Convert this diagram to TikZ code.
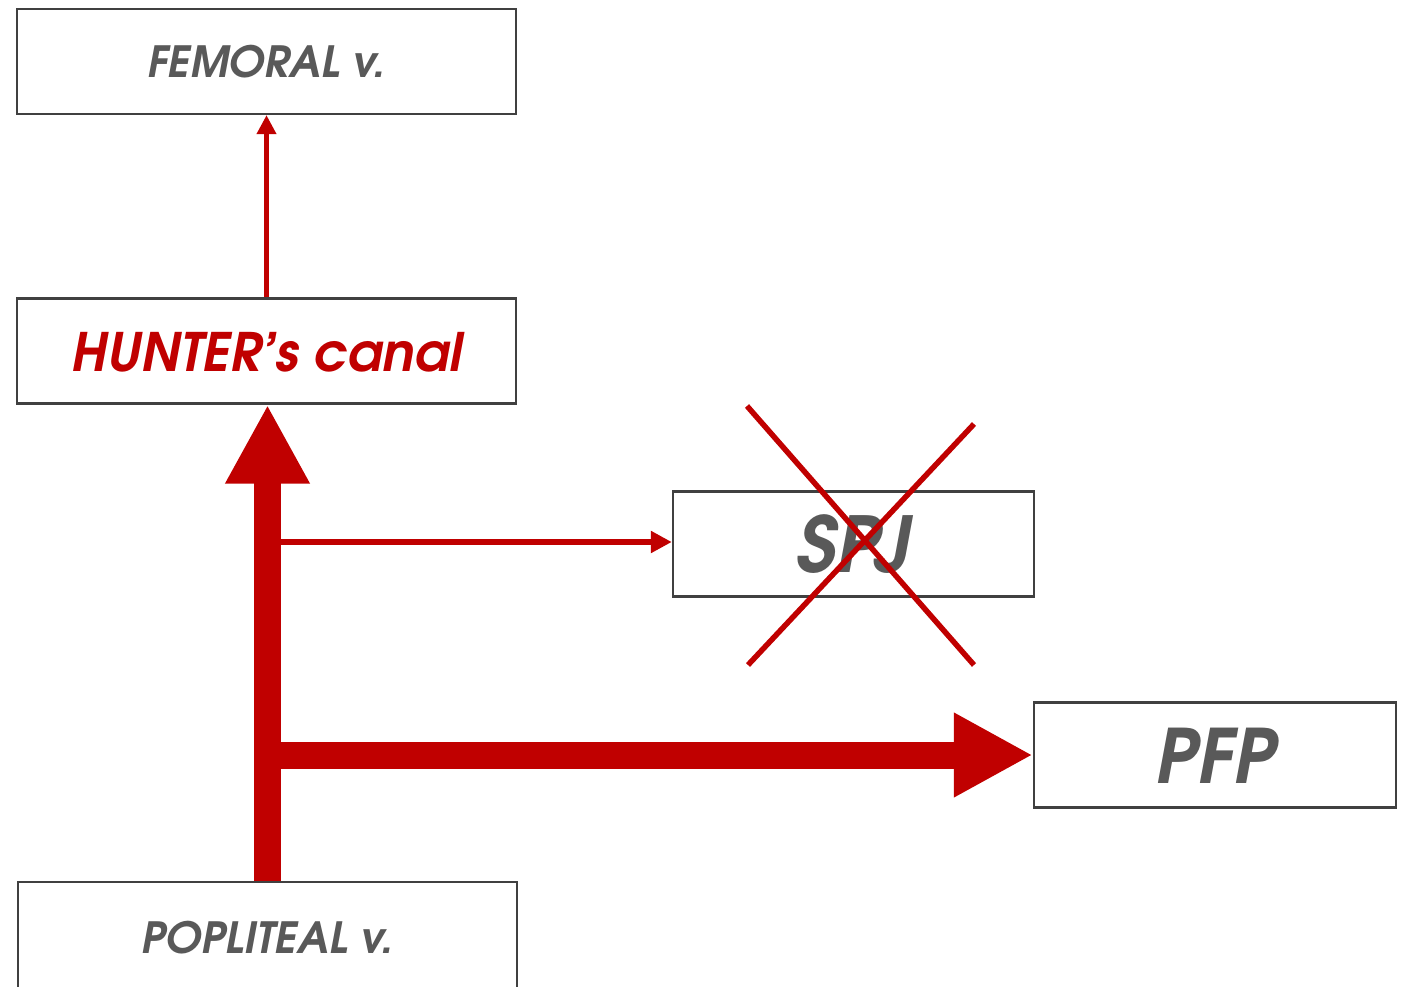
\documentclass[tikz,border=0pt]{standalone}
\usepackage{fontspec}
\usetikzlibrary{arrows.meta}
\newfontfamily\advfont{texgyreadventor-bolditalic.otf}
\definecolor{txtgray}{HTML}{595959}
\definecolor{vred}{HTML}{C00000}
\definecolor{boxline}{HTML}{404040}
\begin{document}
\begin{tikzpicture}[x=1pt,y=-1pt,
  box/.style={draw=boxline, line width=2.4pt, fill=white, inner sep=0pt, text depth=0pt, font=\advfont, text=txtgray},
  wide/.style={box, minimum width=499pt, minimum height=105pt},
  narrow/.style={box, minimum width=361pt, minimum height=105pt},
  thinarrow/.style={draw=vred, line width=4.2pt, -{Triangle[length=19pt,width=19pt]}},
  medarrow/.style={draw=vred, line width=5.4pt, -{Triangle[length=21pt,width=21pt]}},
  thickarrow/.style={draw=vred, line width=27pt, -{Triangle[length=79pt,width=79pt]}},
  crossline/.style={draw=vred, line width=5.5pt}]
\useasboundingbox (0,0) rectangle (1409,987);
\node[wide, text height=32pt, font=\advfont\fontsize{43}{43}\selectfont] (femoral) at (266.5,61.5) {FEMORAL v.};
\node[wide, text height=40pt, text=vred, font=\advfont\fontsize{53}{53}\selectfont] (hunter) at (266.5,351) {HUNTER’s canal};
\node[narrow, text height=57pt, font=\advfont\fontsize{77}{77}\selectfont] (spj) at (853.5,544) {SPJ};
\node[narrow, minimum width=362pt, text height=56pt, font=\advfont\fontsize{75}{75}\selectfont] (pfp) at (1215,755) {PFP};
\node[wide, minimum height=110pt, text height=32pt, font=\advfont\fontsize{43}{43}\selectfont] (popliteal) at (267.5,937) {POPLITEAL v.};
\coordinate (b1) at (267,542);
\coordinate (b2) at (267,755);
\draw[thinarrow] (hunter.north) -- (femoral.south);
\draw[thickarrow] (popliteal.north -| 267.5,0) -- (hunter.south -| 267.5,0);
\draw[medarrow] (b1) -- (spj.west |- b1);
\draw[thickarrow] (b2) -- (pfp.west);
\draw[crossline] (747,406) -- (974,665);
\draw[crossline] (974,424) -- (748,665);
\end{tikzpicture}
\end{document}
